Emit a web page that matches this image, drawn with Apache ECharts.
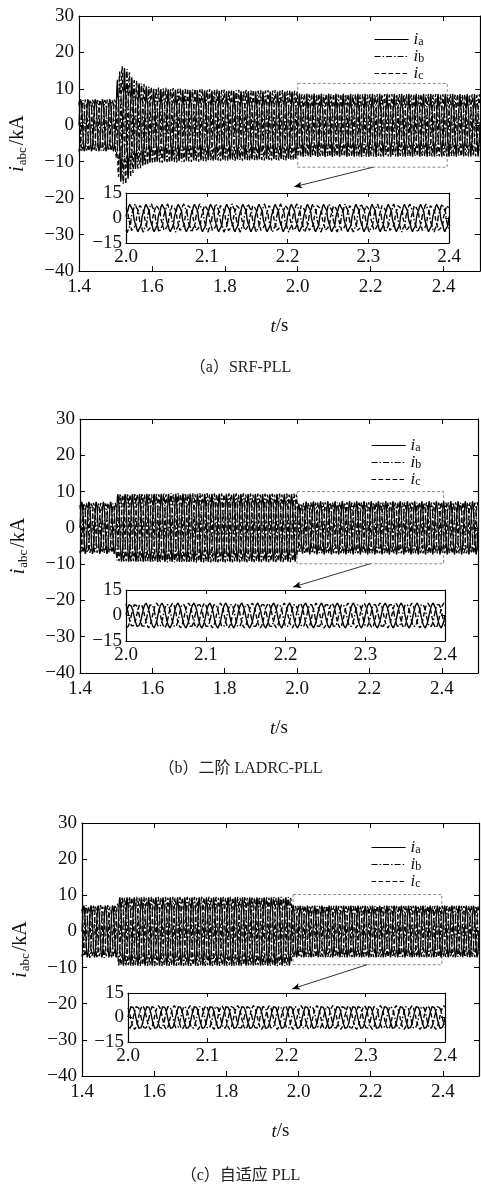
<!DOCTYPE html>
<html>
<head>
<meta charset="utf-8">
<script src="https://cdn.jsdelivr.net/npm/echarts@6/dist/echarts.min.js"></script>
<style>
  html, body { margin: 0; padding: 0; background: #fff; }
  #chart { width: 481px; height: 1189px; }
</style>
</head>
<body>
<div id="chart"></div>
<script>
// Three-phase grid current i_abc (kA) under three PLL schemes.
// Fundamental 50 Hz; each phase is built from its peak envelope and
// harmonic content, phase a/b/c shifted by 0/-120/+120 degrees.
const FREQ_HZ = 50;
const T_START = 1.4, T_END = 2.5, T_STEP = 0.0004;
const PHASES = ['a', 'b', 'c'];
const PHASE_SHIFT_DEG = [0, -120, 120];

// Axis ticks
const mainXTicks = [1.4, 1.6, 1.8, 2.0, 2.2, 2.4];
const mainYTicks = [-40, -30, -20, -10, 0, 10, 20, 30];
const zoomXTicks = [2.0, 2.1, 2.2, 2.3, 2.4];
const zoomYTicks = [-15, 0, 15];

// (a) SRF-PLL: peak envelope (kA) and harmonic fractions
const envTimeA  = [1.40, 1.500, 1.506, 1.516, 1.528, 1.540, 1.552, 1.600, 1.800, 1.995, 2.005, 2.500];
const envPeakA  = [7.5,  7.5,   11.5,  14.0,  14.0,  12.5,  11.0,  9.4,   8.9,   8.8,   7.9,   7.8];
const harmTimeA = [1.40, 1.500, 1.506, 1.600, 2.000, 2.500];
const harm5A    = [0.00, 0.00,  0.18,  0.10,  0.08,  0.08];
const harm11A   = [0.00, 0.00,  0.08,  0.07,  0.07,  0.07];

// (b) 2nd-order LADRC-PLL
const envTimeB  = [1.40, 1.499, 1.503, 1.700, 1.900, 1.998, 2.004, 2.020, 2.050, 2.500];
const envPeakB  = [7.3,  7.3,   9.2,   9.3,   9.2,   9.2,   6.6,   7.0,   7.1,   7.1];
const harmTimeB = [1.40, 1.499, 1.503, 1.998, 2.004, 2.500];
const harm5B    = [0.00, 0.00,  0.03,  0.03,  0.02,  0.02];
const harm11B   = [0.00, 0.00,  0.04,  0.04,  0.03,  0.03];

// (c) adaptive PLL
const envTimeC  = [1.40, 1.497, 1.502, 1.980, 1.985, 2.500];
const envPeakC  = [7.3,  7.3,   9.3,   9.3,   7.1,   7.1];
const harmTimeC = [1.40, 1.497, 1.502, 1.980, 1.985, 2.500];
const harm5C    = [0.00, 0.00,  0.03,  0.03,  0.02,  0.02];
const harm11C   = [0.00, 0.00,  0.03,  0.03,  0.02,  0.02];

// Zoom window (dashed box) and pointer arrow, in data units
const zoomBoxA = [2.00, 11.5, 2.41, -11.5];
const zoomBoxB = [2.00, 10.0, 2.405, -9.9];
const zoomBoxC = [1.985, 10.2, 2.397, -9.2];
const arrowA = [2.207, -11.5, 1.99, -16.9];
const arrowB = [2.202, -9.9, 1.989, -16.3];
const arrowC = [2.19, -9.2, 1.982, -15.9];

const captions = ['（a）SRF-PLL', '（b）二阶 LADRC-PLL', '（c）自适应 PLL'];

const panelData = [
  { env: [envTimeA, envPeakA], harm: [harmTimeA, harm5A, harm11A], box: zoomBoxA, arrow: arrowA },
  { env: [envTimeB, envPeakB], harm: [harmTimeB, harm5B, harm11B], box: zoomBoxB, arrow: arrowB },
  { env: [envTimeC, envPeakC], harm: [harmTimeC, harm5C, harm11C], box: zoomBoxC, arrow: arrowC }
];

// Page layout (pixels)
const layout = [
  { main: { left: 77, top: 16,  width: 403, height: 255 }, inset: { left: 126, top: 193, width: 323, height: 50 }, legend: { left: 369, top: 26 },  caption: 360 },
  { main: { left: 80, top: 419, width: 398, height: 254 }, inset: { left: 126, top: 590, width: 319, height: 51 }, legend: { left: 366, top: 432 }, caption: 761 },
  { main: { left: 82, top: 823, width: 397, height: 253 }, inset: { left: 128, top: 993, width: 317, height: 49 }, legend: { left: 366, top: 834 }, caption: 1168 }
];

const SERIF = '"Liberation Serif", "Times New Roman", serif';
const LINE_TYPES = ['solid', [6, 2, 1.5, 2], [4.5, 2.5]];
const TICK_FONT = 19;

function interp(ts, vs, t) {
  if (t <= ts[0]) return vs[0];
  for (let i = 1; i < ts.length; i++) {
    if (t <= ts[i]) {
      const f = (t - ts[i - 1]) / (ts[i] - ts[i - 1]);
      return vs[i - 1] + f * (vs[i] - vs[i - 1]);
    }
  }
  return vs[vs.length - 1];
}

function phaseCurrent(pd, k) {
  const out = [];
  const n = Math.round((T_END - T_START) / T_STEP);
  const sh = PHASE_SHIFT_DEG[k] * Math.PI / 180;
  for (let j = 0; j <= n; j++) {
    const t = T_START + j * T_STEP;
    const th = 2 * Math.PI * FREQ_HZ * t + sh;
    const A = interp(pd.env[0], pd.env[1], t);
    const h5 = interp(pd.harm[0], pd.harm[1], t);
    const h11 = interp(pd.harm[0], pd.harm[2], t);
    const v = A * (Math.sin(th) + h5 * Math.sin(5 * th + 0.7) + h11 * Math.sin(11 * th + 1.9));
    out.push([+t.toFixed(4), +v.toFixed(3)]);
  }
  return out;
}

const minus = v => (v < 0 ? '\u2212' + Math.abs(v) : String(v));

const grids = [], xAxes = [], yAxes = [], series = [], legends = [], graphics = [];

function valueAxis(extra) {
  return Object.assign({
    type: 'value',
    axisLine: { show: true, onZero: false, lineStyle: { color: '#000', width: 1.2 } },
    axisTick: { show: true, inside: true, length: 5, lineStyle: { color: '#000', width: 1 } },
    splitLine: { show: false },
    axisLabel: { color: '#111', fontFamily: SERIF, fontSize: TICK_FONT }
  }, extra);
}

const insetTick = { show: true, inside: true, length: 4, lineStyle: { color: '#000' } };

panelData.forEach((pd, p) => {
  const L = layout[p];
  grids.push(Object.assign({}, L.main));
  grids.push(Object.assign({ show: true, backgroundColor: '#fff', borderWidth: 0 }, L.inset));
  const gMain = 2 * p, gIn = 2 * p + 1;
  const xMain = { min: mainXTicks[0], max: T_END, interval: 0.2 };
  const yMain = { min: mainYTicks[0], max: mainYTicks[mainYTicks.length - 1], interval: 10 };
  const xIn = { min: zoomXTicks[0], max: zoomXTicks[zoomXTicks.length - 1], interval: 0.1 };
  const yIn = { min: zoomYTicks[0], max: zoomYTicks[zoomYTicks.length - 1], interval: 15 };

  // x axes: main bottom, main top, inset bottom, inset top
  xAxes.push(valueAxis(Object.assign({
    gridIndex: gMain, position: 'bottom', ...xMain,
    name: '{i|t}{n|/s}', nameLocation: 'middle', nameGap: 46,
    nameTextStyle: { rich: {
      i: { fontFamily: SERIF, fontStyle: 'italic', fontSize: 19, color: '#111' },
      n: { fontFamily: SERIF, fontSize: 19, color: '#111' } } },
    axisLabel: { color: '#111', fontFamily: SERIF, fontSize: TICK_FONT, margin: 7, showMaxLabel: false,
      formatter: v => v.toFixed(1) }
  })));
  xAxes.push(valueAxis(Object.assign({ gridIndex: gMain, position: 'top', ...xMain,
    axisLabel: { show: false } })));
  xAxes.push(valueAxis(Object.assign({ gridIndex: gIn, position: 'bottom', ...xIn,
    axisTick: insetTick,
    axisLabel: { color: '#111', fontFamily: SERIF, fontSize: TICK_FONT, margin: 5, formatter: v => v.toFixed(1) } })));
  xAxes.push(valueAxis(Object.assign({ gridIndex: gIn, position: 'top', ...xIn,
    axisTick: insetTick, axisLabel: { show: false } })));

  // y axes: main left, main right, inset left, inset right
  yAxes.push(valueAxis(Object.assign({
    gridIndex: gMain, position: 'left', ...yMain,
    name: '{i|i}{s|abc}{n|/kA}', nameLocation: 'middle', nameGap: 50, nameRotate: 90,
    nameTextStyle: { rich: {
      i: { fontFamily: SERIF, fontStyle: 'italic', fontSize: 20, color: '#111', lineHeight: 22, verticalAlign: 'middle' },
      s: { fontFamily: SERIF, fontSize: 13, color: '#111', lineHeight: 22, verticalAlign: 'bottom', padding: [0, 2, 0, 1] },
      n: { fontFamily: SERIF, fontSize: 20, color: '#111', lineHeight: 22, verticalAlign: 'middle' } } },
    axisLabel: { color: '#111', fontFamily: SERIF, fontSize: TICK_FONT, margin: 5, formatter: minus }
  })));
  yAxes.push(valueAxis(Object.assign({ gridIndex: gMain, position: 'right', ...yMain,
    axisLabel: { show: false } })));
  yAxes.push(valueAxis(Object.assign({ gridIndex: gIn, position: 'left', ...yIn,
    axisTick: insetTick,
    axisLabel: { color: '#111', fontFamily: SERIF, fontSize: TICK_FONT, margin: 4, formatter: minus } })));
  yAxes.push(valueAxis(Object.assign({ gridIndex: gIn, position: 'right', ...yIn,
    axisTick: insetTick, axisLabel: { show: false } })));

  const legendNames = [];
  PHASES.forEach((ph, k) => {
    const data = phaseCurrent(pd, k);
    const name = 'i' + ph + '#' + p;
    legendNames.push(name);
    const s = {
      type: 'line', name, xAxisIndex: 4 * p, yAxisIndex: 4 * p,
      data, symbol: 'none', silent: true, animation: false,
      color: '#000',
      lineStyle: { color: '#000', width: 1.3, type: LINE_TYPES[k] }
    };
    if (k === 0) {
      const b = pd.box, a = pd.arrow;
      s.markArea = {
        silent: true,
        itemStyle: { color: 'rgba(0,0,0,0)', borderColor: '#8a8a8a', borderWidth: 1, borderType: [3, 2] },
        data: [[{ xAxis: b[0], yAxis: b[1] }, { xAxis: b[2], yAxis: b[3] }]]
      };
      s.markLine = {
        silent: true, symbol: ['none', 'arrow'], symbolSize: [5, 8],
        label: { show: false },
        lineStyle: { color: '#000', width: 0.8, type: 'solid' },
        data: [[{ coord: [a[0], a[1]] }, { coord: [a[2], a[3]] }]]
      };
    }
    series.push(s);
    series.push({
      type: 'line', name: name + 'z', xAxisIndex: 4 * p + 2, yAxisIndex: 4 * p + 2,
      data: data.filter(d => d[0] >= zoomXTicks[0] && d[0] <= zoomXTicks[zoomXTicks.length - 1]),
      symbol: 'none', silent: true, animation: false, color: '#000',
      lineStyle: { color: '#000', width: 1.4, type: LINE_TYPES[k] }
    });
  });

  legends.push({
    data: legendNames, orient: 'vertical', left: L.legend.left, top: L.legend.top,
    itemWidth: 34, itemHeight: 12, itemGap: 0, selectedMode: false,
    itemStyle: { opacity: 0 },
    lineStyle: { width: 1.2 },
    formatter: n => '{i|i}{s|' + n.charAt(1) + '}',
    textStyle: { rich: {
      i: { fontFamily: SERIF, fontStyle: 'italic', fontSize: 17, color: '#111', lineHeight: 16, verticalAlign: 'middle' },
      s: { fontFamily: SERIF, fontSize: 12, color: '#111', lineHeight: 16, verticalAlign: 'bottom' } } }
  });

  graphics.push({
    type: 'text', left: 'center', top: L.caption,
    style: { text: captions[p], font: '16px "Liberation Serif", "Noto Sans CJK SC", serif', fill: '#222' }
  });
});

const chart = echarts.init(document.getElementById('chart'), null, { renderer: 'canvas' });
chart.setOption({
  animation: false,
  backgroundColor: '#fff',
  grid: grids,
  xAxis: xAxes,
  yAxis: yAxes,
  legend: legends,
  series: series,
  graphic: graphics
});
</script>
</body>
</html>
